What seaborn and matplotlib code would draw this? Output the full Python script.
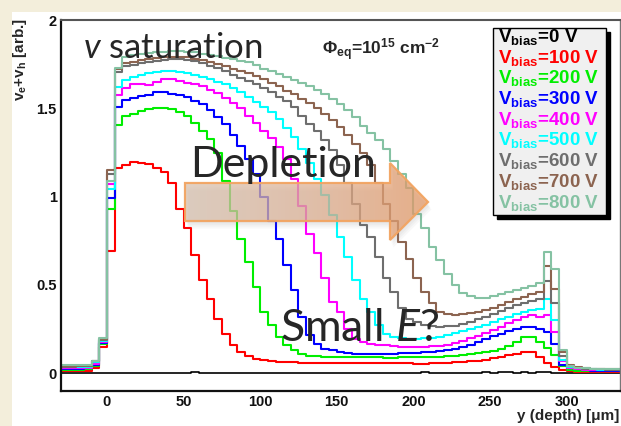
import numpy as np
import pandas as pd
import matplotlib
matplotlib.use("Agg")
import matplotlib.pyplot as plt
import seaborn as sns
from matplotlib.patches import Polygon, Rectangle
from matplotlib.ticker import MultipleLocator, FuncFormatter

# ---------------- data ----------------
# left edges of the 5 um depth bins (-30 ... 330 um)
bin_low = list(range(-30, 335, 5))

bias_labels = ["0 V", "100 V", "200 V", "300 V", "400 V", "500 V", "600 V", "700 V", "800 V"]
line_colors = ["#000000", "#ff0000", "#00ee00", "#0000ff", "#ff00ff", "#00ffff",
               "#6e6e6e", "#8c6450", "#85c2a3"]

v_0V = [0.004, 0.003, 0.004, 0.003, 0.002, 0.003, 0.002, 0.004, 0.003, 0.002,
        0.001, 0.003, 0.002, 0.004, 0.003, 0.002, 0.004, 0.005, 0.003, 0.002,
        0.003, 0.002, 0.001, 0.003, 0.004, 0.002, 0.003, 0.002, 0.004, 0.003,
        0.002, 0.003, 0.003, 0.002, 0.004, 0.003, 0.002, 0.003, 0.004, 0.002,
        0.003, 0.002, 0.004, 0.003, 0.002, 0.003, 0.004, 0.005, 0.004, 0.003,
        0.003, 0.004, 0.003, 0.002, 0.004, 0.005, 0.004, 0.006, 0.005, 0.004,
        0.005, 0.004, 0.006, 0.005, 0.004, 0.003, 0.002, 0.003, 0.002, 0.002,
        0.002, 0.002, 0.002]
v_100V = [0.012, 0.012, 0.013, 0.015, 0.030, 0.150, 0.690, 1.165, 1.180, 1.197,
          1.190, 1.184, 1.165, 1.140, 1.080, 0.930, 0.820, 0.670, 0.530, 0.420,
          0.310, 0.220, 0.160, 0.120, 0.098, 0.083, 0.074, 0.070, 0.066, 0.064,
          0.062, 0.061, 0.060, 0.060, 0.059, 0.060, 0.058, 0.057, 0.057, 0.056,
          0.056, 0.057, 0.058, 0.058, 0.057, 0.056, 0.055, 0.055, 0.056, 0.058,
          0.060, 0.062, 0.065, 0.068, 0.072, 0.077, 0.084, 0.092, 0.103, 0.112,
          0.120, 0.121, 0.090, 0.058, 0.037, 0.018, 0.012, 0.010, 0.009, 0.008,
          0.008, 0.007, 0.007]
v_200V = [0.020, 0.020, 0.021, 0.022, 0.040, 0.165, 0.930, 1.405, 1.455, 1.470,
          1.486, 1.494, 1.500, 1.500, 1.495, 1.480, 1.458, 1.415, 1.370, 1.325,
          1.250, 1.090, 0.920, 0.763, 0.630, 0.489, 0.347, 0.275, 0.206, 0.163,
          0.130, 0.111, 0.100, 0.097, 0.095, 0.094, 0.093, 0.092, 0.092, 0.091,
          0.090, 0.090, 0.089, 0.089, 0.090, 0.090, 0.091, 0.092, 0.093, 0.095,
          0.097, 0.100, 0.104, 0.108, 0.113, 0.118, 0.124, 0.135, 0.152, 0.180,
          0.205, 0.206, 0.177, 0.145, 0.105, 0.040, 0.020, 0.016, 0.014, 0.013,
          0.012, 0.012, 0.011]
v_300V = [0.025, 0.025, 0.026, 0.028, 0.050, 0.170, 0.990, 1.505, 1.550, 1.560,
          1.568, 1.575, 1.594, 1.590, 1.580, 1.575, 1.562, 1.542, 1.525, 1.490,
          1.452, 1.410, 1.350, 1.285, 1.216, 1.130, 1.000, 0.860, 0.763, 0.612,
          0.470, 0.319, 0.215, 0.168, 0.140, 0.133, 0.120, 0.113, 0.111, 0.110,
          0.110, 0.110, 0.111, 0.112, 0.113, 0.114, 0.116, 0.118, 0.121, 0.125,
          0.130, 0.138, 0.150, 0.163, 0.178, 0.195, 0.210, 0.225, 0.240, 0.252,
          0.262, 0.265, 0.250, 0.235, 0.168, 0.050, 0.028, 0.022, 0.018, 0.016,
          0.015, 0.014, 0.014]
v_400V = [0.030, 0.030, 0.031, 0.033, 0.055, 0.180, 1.070, 1.575, 1.613, 1.637,
          1.640, 1.630, 1.650, 1.664, 1.665, 1.655, 1.645, 1.638, 1.625, 1.605,
          1.585, 1.560, 1.530, 1.500, 1.455, 1.415, 1.370, 1.330, 1.280, 1.215,
          1.100, 0.950, 0.790, 0.680, 0.537, 0.404, 0.347, 0.253, 0.197, 0.177,
          0.168, 0.163, 0.158, 0.153, 0.150, 0.149, 0.149, 0.150, 0.153, 0.157,
          0.163, 0.172, 0.185, 0.198, 0.212, 0.228, 0.245, 0.265, 0.285, 0.302,
          0.318, 0.328, 0.320, 0.330, 0.234, 0.068, 0.032, 0.025, 0.021, 0.019,
          0.018, 0.017, 0.017]
v_500V = [0.035, 0.035, 0.036, 0.038, 0.065, 0.185, 1.046, 1.620, 1.660, 1.677,
          1.690, 1.700, 1.707, 1.713, 1.713, 1.708, 1.700, 1.690, 1.678, 1.665,
          1.650, 1.635, 1.615, 1.590, 1.565, 1.537, 1.510, 1.480, 1.440, 1.390,
          1.335, 1.270, 1.190, 1.100, 1.010, 0.895, 0.772, 0.659, 0.527, 0.423,
          0.347, 0.272, 0.225, 0.206, 0.199, 0.197, 0.197, 0.198, 0.202, 0.208,
          0.216, 0.226, 0.238, 0.250, 0.262, 0.275, 0.290, 0.305, 0.320, 0.336,
          0.350, 0.360, 0.365, 0.420, 0.300, 0.075, 0.035, 0.028, 0.024, 0.022,
          0.020, 0.019, 0.019]
v_600V = [0.038, 0.038, 0.039, 0.040, 0.068, 0.190, 1.130, 1.707, 1.740, 1.748,
          1.755, 1.762, 1.768, 1.773, 1.777, 1.777, 1.775, 1.768, 1.757, 1.740,
          1.727, 1.710, 1.690, 1.670, 1.655, 1.635, 1.615, 1.590, 1.566, 1.540,
          1.505, 1.455, 1.410, 1.370, 1.320, 1.265, 1.180, 1.080, 0.960, 0.840,
          0.770, 0.660, 0.540, 0.460, 0.370, 0.310, 0.290, 0.272, 0.266, 0.265,
          0.266, 0.270, 0.278, 0.290, 0.305, 0.320, 0.335, 0.352, 0.370, 0.385,
          0.400, 0.412, 0.420, 0.520, 0.400, 0.100, 0.040, 0.032, 0.027, 0.024,
          0.022, 0.021, 0.021]
v_700V = [0.040, 0.040, 0.041, 0.043, 0.070, 0.195, 1.150, 1.720, 1.758, 1.765,
          1.773, 1.778, 1.783, 1.790, 1.792, 1.792, 1.788, 1.782, 1.773, 1.762,
          1.750, 1.738, 1.725, 1.710, 1.698, 1.683, 1.665, 1.645, 1.625, 1.600,
          1.580, 1.555, 1.530, 1.500, 1.470, 1.433, 1.395, 1.350, 1.300, 1.245,
          1.180, 1.080, 0.960, 0.860, 0.744, 0.650, 0.540, 0.460, 0.400, 0.350,
          0.335, 0.333, 0.335, 0.340, 0.348, 0.358, 0.372, 0.388, 0.403, 0.418,
          0.432, 0.447, 0.460, 0.610, 0.480, 0.120, 0.045, 0.035, 0.030, 0.027,
          0.025, 0.024, 0.023]
v_800V = [0.045, 0.045, 0.046, 0.048, 0.072, 0.200, 1.090, 1.730, 1.790, 1.800,
          1.807, 1.812, 1.817, 1.820, 1.824, 1.824, 1.820, 1.817, 1.810, 1.800,
          1.795, 1.786, 1.780, 1.770, 1.760, 1.745, 1.725, 1.710, 1.693, 1.676,
          1.660, 1.645, 1.625, 1.605, 1.580, 1.555, 1.525, 1.490, 1.450, 1.400,
          1.360, 1.320, 1.270, 1.200, 1.130, 1.050, 0.900, 0.820, 0.716, 0.640,
          0.565, 0.500, 0.455, 0.435, 0.428, 0.428, 0.435, 0.447, 0.460, 0.472,
          0.485, 0.497, 0.510, 0.688, 0.593, 0.130, 0.040, 0.032, 0.028, 0.025,
          0.023, 0.022, 0.022]

series_values = [v_0V, v_100V, v_200V, v_300V, v_400V, v_500V, v_600V, v_700V, v_800V]

# ---------------- styling ----------------
sns.set_theme(style="white")
plt.rcParams["font.family"] = ["Liberation Sans", "DejaVu Sans"]
plt.rcParams["font.weight"] = "bold"
plt.rcParams["mathtext.fontset"] = "custom"
plt.rcParams["mathtext.it"] = "Lato:style=italic:weight=normal"
plt.rcParams["mathtext.bf"] = "Liberation Sans:weight=bold"
plt.rcParams["mathtext.rm"] = "Liberation Sans"

CREAM = "#f3eedb"
fig = plt.figure(figsize=(6.21, 4.26), dpi=100, facecolor=CREAM)
W, H = 621.0, 426.0
# white slide panel
fig.add_artist(Rectangle((12 / W, 0), 1, 1 - 12 / H, transform=fig.transFigure,
                         facecolor="white", edgecolor="none", zorder=0))

AX_L, AX_R, AX_T, AX_B = 61.0, 619.5, 20.0, 391.0
ax = fig.add_axes([AX_L / W, 1 - AX_B / H, (AX_R - AX_L) / W, (AX_B - AX_T) / H])
ax.set_facecolor("white")


def fx(px):
    return (px - AX_L) / (AX_R - AX_L)


def fy(py):
    return (AX_B - py) / (AX_B - AX_T)


# ---------------- histogram outlines ----------------
edges_x = bin_low + [bin_low[-1] + 5]
rows = []
for lab, vals in zip(bias_labels, series_values):
    for xv, yv in zip(edges_x, vals + [vals[-1]]):
        rows.append((xv, yv, lab))
df = pd.DataFrame(rows, columns=["depth", "v", "bias"])

sns.lineplot(data=df, x="depth", y="v", hue="bias", hue_order=bias_labels,
             palette=dict(zip(bias_labels, line_colors)), drawstyle="steps-post",
             estimator=None, sort=False, legend=False, linewidth=1.5, ax=ax, zorder=2)
ax.lines[0].set_linewidth(1.2)

# ---------------- axes ----------------
ax.xaxis.set_major_locator(MultipleLocator(50))
ax.xaxis.set_minor_locator(MultipleLocator(10))
ax.yaxis.set_major_locator(MultipleLocator(0.5))
ax.yaxis.set_minor_locator(MultipleLocator(0.1))
ax.yaxis.set_major_formatter(FuncFormatter(lambda v, p: f"{v:g}"))
ax.tick_params(axis="both", which="both", direction="in", top=False, right=False,
               colors="#111111", labelsize=10.5, pad=3)
ax.tick_params(axis="y", which="major", length=11.5, width=1.0)
ax.tick_params(axis="y", which="minor", length=5.8, width=0.8)
ax.tick_params(axis="x", which="major", length=8, width=1.0)
ax.tick_params(axis="x", which="minor", length=4.2, width=0.8)
for side in ["left", "bottom"]:
    ax.spines[side].set_color("#111111")
    ax.spines[side].set_linewidth(1.6)
ax.spines["top"].set_color("#555555")
ax.spines["top"].set_linewidth(1.5)
ax.spines["right"].set_color("#777777")
ax.spines["right"].set_linewidth(1.0)

ax.set_ylabel(r"$\mathbf{v_e{+}v_h}$ [arb.]", fontsize=11, fontweight="bold", loc="top")
ax.yaxis.set_label_coords(fx(29), fy(18))
ax.set_xlabel("y (depth) [\u03bcm]", fontsize=11, fontweight="bold", loc="right")
ax.xaxis.set_label_coords(fx(619), fy(409))

# ---------------- annotations ----------------
ax.text(fx(83), fy(58), r"$v$ saturation", transform=ax.transAxes, fontsize=25,
        fontfamily="Lato", fontweight="normal", va="baseline", ha="left", zorder=6)
ax.text(fx(322), fy(55), r"$\mathbf{\Phi_{eq}}$=10$^{\mathbf{15}}$ cm$^{\mathbf{-2}}$",
        transform=ax.transAxes, fontsize=12.5, fontweight="bold", va="baseline",
        ha="left", zorder=6)

# block arrow "Depletion"
arrow_px = [(185, 221), (390, 221), (390, 240), (428, 202), (390, 163), (390, 183), (185, 183)]
arrow_pts = [(fx(a), fy(b)) for a, b in arrow_px]
for k in range(1, 5):
    shp = [(px_ + 0.0015 * k, py_ - 0.005 * k) for px_, py_ in arrow_pts]
    ax.add_patch(Polygon(shp, closed=True, transform=ax.transAxes, facecolor="#7a7a7a",
                         edgecolor="none", alpha=0.05, zorder=3))
clip_poly = Polygon(arrow_pts, closed=True, transform=ax.transAxes, facecolor="none",
                    edgecolor="none")
ax.add_patch(clip_poly)
stops = np.array([[216, 194, 176], [222, 177, 148], [231, 154, 102]]) / 255.0
tt = np.linspace(0, 1, 256)
grad = np.zeros((1, 256, 4))
for c in range(3):
    grad[0, :, c] = np.interp(tt, [0, 0.5, 1], stops[:, c])
grad[0, :, 3] = 0.72
x0, x1 = fx(185), fx(428)
y0, y1 = fy(240), fy(163)
im = ax.imshow(grad, extent=[x0, x1, y0, y1], transform=ax.transAxes, aspect="auto",
               interpolation="bilinear", zorder=4)
im.set_clip_path(clip_poly)
ax.add_patch(Polygon(arrow_pts, closed=True, transform=ax.transAxes, fill=False,
                     edgecolor="#f2a461", linewidth=1.6, alpha=0.95, zorder=5))
ax.set_xlim(-30, 334.5)
ax.set_ylim(-0.1, 2.0)

ax.text(fx(190), fy(177), "Depletion", transform=ax.transAxes, fontsize=31,
        fontfamily="Lato", fontweight="normal", va="baseline", ha="left", zorder=6)
ax.text(fx(280), fy(341), r"Small $E$?", transform=ax.transAxes, fontsize=32,
        fontfamily="Lato", fontweight="normal", va="baseline", ha="left", zorder=6)

# ---------------- legend box (ROOT TLegend style) ----------------
lx0, lx1, ly_top, ly_bot = fx(493), fx(606), fy(28), fy(215)
ax.add_patch(Rectangle((lx0 + 4 / (AX_R - AX_L), ly_bot - 4 / (AX_B - AX_T)), lx1 - lx0,
                       ly_top - ly_bot, transform=ax.transAxes, facecolor="black",
                       edgecolor="black", zorder=7, clip_on=False))
ax.add_patch(Rectangle((lx0, ly_bot), lx1 - lx0, ly_top - ly_bot, transform=ax.transAxes,
                       facecolor="#f0f0f0", edgecolor="black", linewidth=1.0, zorder=8,
                       clip_on=False))
for i, (lab, col) in enumerate(zip(bias_labels, line_colors)):
    ax.text(fx(498), fy(42 + 20.7 * i), r"$\mathbf{V_{bias}}$=" + lab,
            transform=ax.transAxes, color=col, fontsize=13.5, fontweight="bold",
            va="baseline", ha="left", zorder=9)

fig.savefig("out.png", dpi=100, facecolor=fig.get_facecolor())
